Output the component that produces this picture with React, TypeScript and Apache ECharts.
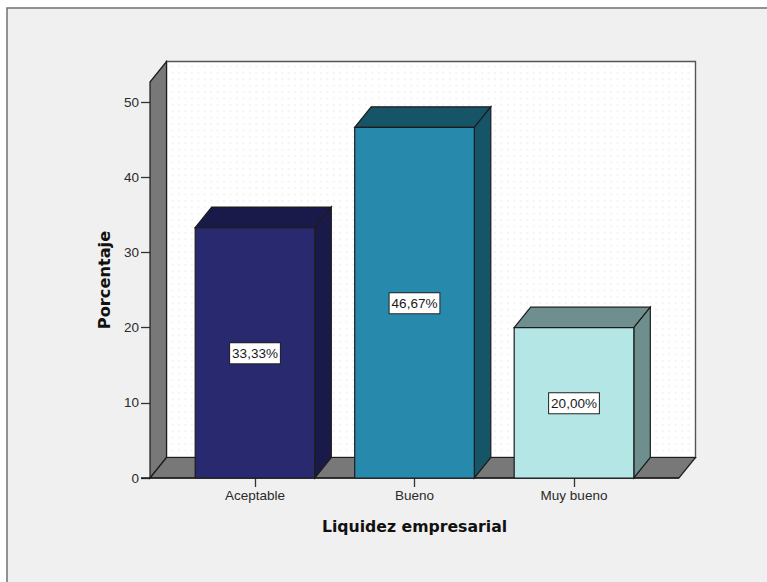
import React, { useEffect, useRef } from "react";
import * as echarts from "echarts";

const categories = ["Aceptable", "Bueno", "Muy bueno"];
const percentages = [33.33, 46.67, 20.0];
const tickValues = [0, 10, 20, 30, 40, 50];
const wallTopValue = 52.7;
const frontColors = ["#29296f", "#278aad", "#b5e6e6"];
const shadeColors = ["#1a1a4a", "#165468", "#6f8f8f"];

const DX = 16.5;
const DY = 20.5;
const AXIS_OVERHANG = 25.25;
const BAR_RATIO = 0.75;
const LINE = "#1c1c1c";
const WALL = "#787878";
const LABEL_FONT = "'Liberation Sans', Arial, sans-serif";

function renderFrame(params: any, api: any) {
  const cs = params.coordSys;
  const x0 = cs.x - AXIS_OVERHANG;
  const x1 = cs.x + cs.width + AXIS_OVERHANG;
  const yb = api.coord([0, 0])[1];
  const yt = api.coord([0, wallTopValue])[1];
  const stroke = { stroke: LINE, lineWidth: 1.2 };
  const children: any[] = [
    {
      type: "rect",
      shape: { x: x0 + DX, y: yt - DY, width: x1 - x0, height: yb - yt },
      style: { fill: "#ffffff", stroke: "#555555", lineWidth: 1.4 },
    },
  ];
  for (let x = x0 + DX + 6; x < x1 + DX - 2; x += 6.45) {
    children.push({
      type: "line",
      shape: { x1: x, y1: yt - DY + 4, x2: x, y2: yb - DY - 2 },
      style: { stroke: "#f4f4f4", lineWidth: 2, lineDash: [2, 4.4] },
    });
  }
  children.push(
    {
      type: "polygon",
      shape: { points: [[x0, yt], [x0 + DX, yt - DY], [x0 + DX, yb - DY], [x0, yb]] },
      style: { fill: WALL, ...stroke },
    },
    {
      type: "polygon",
      shape: { points: [[x0, yb], [x0 + DX, yb - DY], [x1 + DX, yb - DY], [x1, yb]] },
      style: { fill: WALL, ...stroke },
    }
  );
  return { type: "group", children };
}

function renderBar(params: any, api: any) {
  const i = api.value(0);
  const v = api.value(1);
  const c = api.coord([i, v]);
  const base = api.coord([i, 0]);
  const w = api.size([1, 0])[0] * BAR_RATIO;
  const l = c[0] - w / 2;
  const r = c[0] + w / 2;
  const t = c[1];
  const b = base[1];
  const stroke = { stroke: LINE, lineWidth: 1.2 };
  const mid = api.coord([i, v / 2])[1];
  return {
    type: "group",
    children: [
      {
        type: "polygon",
        shape: { points: [[l, t], [l + DX, t - DY], [r + DX, t - DY], [r, t]] },
        style: { fill: shadeColors[i], ...stroke },
      },
      {
        type: "polygon",
        shape: { points: [[r, t], [r + DX, t - DY], [r + DX, b - DY], [r, b]] },
        style: { fill: shadeColors[i], ...stroke },
      },
      {
        type: "rect",
        shape: { x: l, y: t, width: w, height: b - t },
        style: { fill: frontColors[i], ...stroke },
      },
      {
        type: "text",
        x: c[0],
        y: mid + 0.5,
        style: {
          text: v.toFixed(2).replace(".", ",") + "%",
          align: "center",
          verticalAlign: "middle",
          fill: "#1a1a1a",
          font: `13.5px ${LABEL_FONT}`,
          backgroundColor: "#ffffff",
          borderColor: "#222222",
          borderWidth: 1,
          padding: [3, 2, 3, 2],
        },
      },
    ],
  };
}

function renderAxisLine(params: any, api: any) {
  const cs = params.coordSys;
  const y = api.coord([0, 0])[1];
  return {
    type: "line",
    shape: { x1: cs.x - AXIS_OVERHANG - 9, y1: y, x2: cs.x + cs.width + AXIS_OVERHANG, y2: y },
    style: { stroke: LINE, lineWidth: 1.4 },
  };
}

export default function App() {
  const ref = useRef<HTMLDivElement>(null);
  useEffect(() => {
    const chart = echarts.init(ref.current!, undefined, { renderer: "svg" });
    chart.setOption({
      animation: false,
      backgroundColor: "#ffffff",
      graphic: [
        {
          type: "rect",
          z: -10,
          shape: { x: 7, y: 8, width: 800, height: 620 },
          style: { fill: "#f0f0f0", stroke: "#707070", lineWidth: 1.5 },
        },
      ],
      grid: { left: 175.25, top: 82, width: 478.5, height: 396 },
      xAxis: {
        type: "category",
        data: categories,
        name: "Liquidez empresarial",
        nameLocation: "middle",
        nameGap: 40,
        nameTextStyle: { color: "#111111", fontFamily: "'DejaVu Sans'", fontWeight: "bold", fontSize: 15.7 },
        axisLine: { show: false },
        axisTick: { show: true, alignWithLabel: true, length: 9, lineStyle: { color: "#333333", width: 1.3 } },
        axisLabel: { color: "#2a2a2a", fontFamily: LABEL_FONT, fontSize: 13.5, margin: 10 },
      },
      yAxis: {
        type: "value",
        min: 0,
        max: wallTopValue,
        offset: AXIS_OVERHANG,
        name: "Porcentaje",
        nameLocation: "middle",
        nameGap: 38,
        nameTextStyle: { color: "#111111", fontFamily: "'DejaVu Sans'", fontWeight: "bold", fontSize: 16.2 },
        splitLine: { show: false },
        axisLine: { show: true, lineStyle: { color: LINE } },
        axisTick: { show: true, length: 9, customValues: tickValues, lineStyle: { color: "#333333", width: 1.3 } },
        axisLabel: { color: "#2a2a2a", fontFamily: LABEL_FONT, fontSize: 13.5, margin: 11, customValues: tickValues },
      },
      series: [
        { type: "custom", z: 2, silent: true, renderItem: renderFrame, data: [[0, 0]], encode: { x: 0, y: 1 } },
        { type: "custom", z: 3, silent: true, renderItem: renderAxisLine, data: [[0, 0]], encode: { x: 0, y: 1 } },
        {
          type: "custom",
          z: 4,
          silent: true,
          renderItem: renderBar,
          data: percentages.map((v, i) => [i, v]),
          encode: { x: 0, y: 1 },
        },
      ],
    });
    return () => chart.dispose();
  }, []);
  return <div ref={ref} style={{ position: "absolute", left: 0, top: 0, width: 767, height: 582 }} />;
}
